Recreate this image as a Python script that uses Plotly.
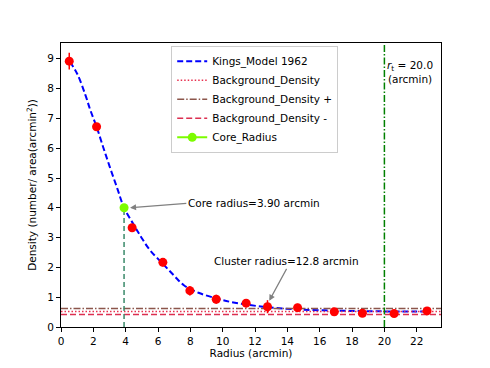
import plotly.graph_objects as go

# ====== DATA ======
radius = [0.51, 2.2, 4.4, 6.3, 7.97, 9.6, 11.45, 12.77, 14.63, 16.9, 18.64, 20.6, 22.64]
density = [8.92, 6.72, 3.33, 2.17, 1.22, 0.93, 0.80, 0.68, 0.65, 0.51, 0.46, 0.45, 0.54]
density_err = [0.28, 0.12, 0.13, 0.14, 0.16, 0.15, 0.14, 0.22, 0.13, 0.13, 0.11, 0.11, 0.12]

model_r = [0.55, 1.0, 1.5, 1.8, 2.2, 2.6, 3.0, 3.5, 3.9, 4.5, 5.0, 5.5, 6.3, 7.0, 7.6,
           8.5, 9.6, 10.5, 11.5, 12.5, 13.5, 15.0, 17.0, 19.0, 21.0, 22.6]
model_density = [8.9, 8.5, 7.8, 7.3, 6.72, 6.05, 5.4, 4.62, 4.0, 3.43, 2.98, 2.58, 2.12, 1.72, 1.4,
                 1.15, 0.96, 0.84, 0.75, 0.68, 0.63, 0.58, 0.55, 0.53, 0.52, 0.52]

bg_density = 0.52
bg_plus = 0.62
bg_minus = 0.42
core_radius = 3.90
core_density = 4.0
cluster_radius = 12.8
tidal_radius = 20.0

x_range = [0, 23.5]
y_range = [0, 9.53]

FONT = "DejaVu Sans"
FS = 10.5

fig = go.Figure()

# King model curve
fig.add_trace(go.Scatter(
    x=model_r, y=model_density, mode="lines", name="Kings_Model 1962",
    line=dict(color="blue", width=2, dash="6px,3px", shape="spline")
))

# background levels
fig.add_trace(go.Scatter(
    x=x_range, y=[bg_density, bg_density], mode="lines", name="Background_Density",
    line=dict(color="#e8304f", width=1.5, dash="1.5px,2px")
))
fig.add_trace(go.Scatter(
    x=x_range, y=[bg_plus, bg_plus], mode="lines", name="Background_Density +",
    line=dict(color="#8c564b", width=1.5, dash="7px,2px,1.5px,2px")
))
fig.add_trace(go.Scatter(
    x=x_range, y=[bg_minus, bg_minus], mode="lines", name="Background_Density -",
    line=dict(color="#dc2f50", width=1.5, dash="6px,3px")
))

# core radius marker + drop line
fig.add_trace(go.Scatter(
    x=[core_radius, core_radius], y=[0, core_density], mode="lines", showlegend=False,
    line=dict(color="#3a8a6a", width=1.5, dash="5px,3px")
))
fig.add_trace(go.Scatter(
    x=[core_radius], y=[core_density], mode="lines+markers", name="Core_Radius",
    line=dict(color="#7cfc00", width=2), marker=dict(color="#7cfc00", size=9)
))

# tidal radius
fig.add_trace(go.Scatter(
    x=[tidal_radius, tidal_radius], y=y_range, mode="lines", showlegend=False,
    line=dict(color="green", width=1.5, dash="7px,2px,1.5px,2px")
))

# observed points
fig.add_trace(go.Scatter(
    x=radius, y=density, mode="markers", showlegend=False,
    marker=dict(color="red", size=9),
    error_y=dict(type="data", array=density_err, color="red", thickness=1.5, width=0)
))

# ====== ANNOTATIONS ======
fig.add_annotation(x=4.27, y=4.0, ax=7.75, ay=4.15, axref="x", ayref="y",
                   text="Core radius=3.90 arcmin", xanchor="left", yanchor="middle",
                   showarrow=True, arrowhead=2, arrowsize=1, arrowwidth=1.2, arrowcolor="gray",
                   font=dict(family=FONT, size=FS, color="black"))
fig.add_annotation(x=12.88, y=0.88, ax=13.95, ay=1.95, axref="x", ayref="y",
                   text="Cluster radius=12.8 arcmin", xanchor="center", yanchor="bottom",
                   showarrow=True, arrowhead=2, arrowsize=1, arrowwidth=1.2, arrowcolor="gray",
                   font=dict(family=FONT, size=FS, color="black"))
fig.add_annotation(x=21.6, y=8.56, text="<i>r</i><sub>t</sub> = 20.0<br>(arcmin)", showarrow=False,
                   font=dict(family=FONT, size=FS, color="black"))

# ====== LAYOUT ======
axis_common = dict(showline=True, linecolor="black", linewidth=1, mirror=True,
                   ticks="outside", ticklen=4, tickcolor="black", showgrid=False,
                   zeroline=False, automargin=False,
                   tickfont=dict(family=FONT, size=FS, color="black"))
fig.update_layout(
    width=490, height=368,
    margin=dict(l=61, r=49, t=43, b=41),
    paper_bgcolor="white", plot_bgcolor="white",
    font=dict(family=FONT, size=FS, color="black"),
    xaxis=dict(range=x_range, dtick=2,
               title=dict(text="Radius (arcmin)", standoff=4, font=dict(family=FONT, size=FS)),
               **axis_common),
    yaxis=dict(range=y_range, dtick=1,
               title=dict(text="Density (number/ area(arcmin<sup>2</sup>))", standoff=8,
                          font=dict(family=FONT, size=FS)),
               **axis_common),
    legend=dict(x=0.29, y=0.99, xanchor="left", yanchor="top", bgcolor="white",
                bordercolor="#cccccc", borderwidth=1, itemwidth=30,
                font=dict(family=FONT, size=FS), tracegroupgap=0),
)

# drop the page's default body margin so the figure sits at the window origin
fig.write_html("out.html", config={"displayModeBar": False},
               post_script="document.body.style.margin='0';")
